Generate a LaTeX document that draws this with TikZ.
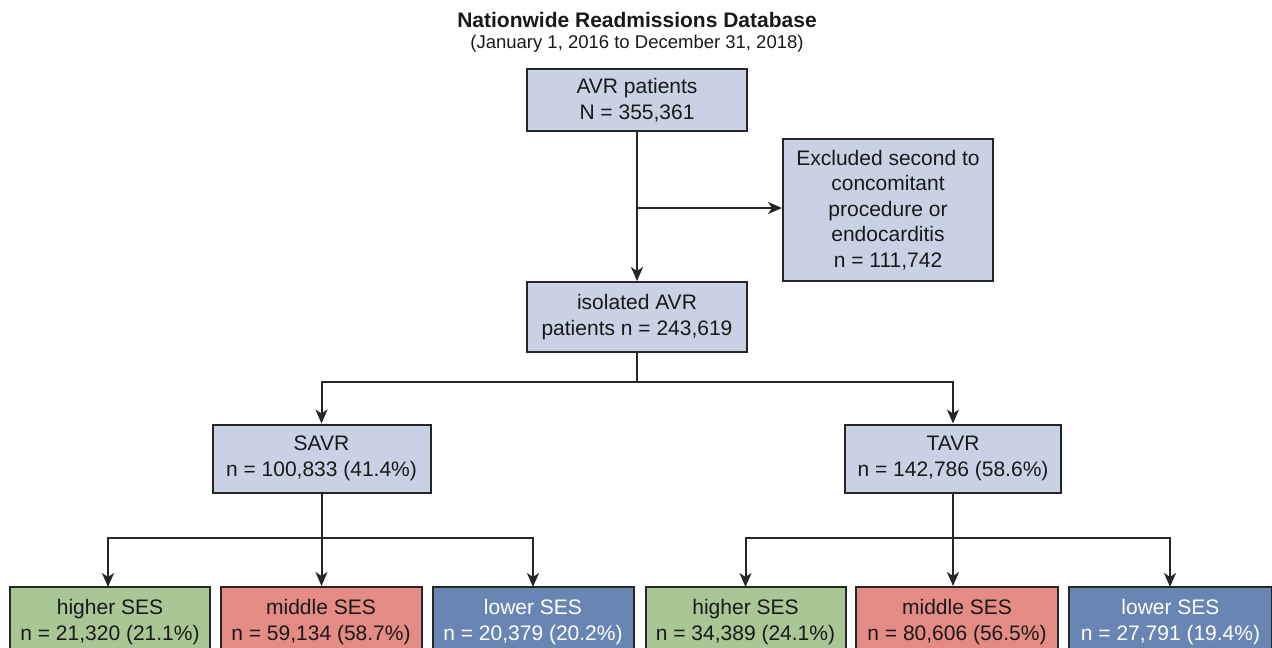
\documentclass[tikz,border=0pt]{standalone}
\usepackage{fontspec}
\setmainfont{Liberation Sans}
\usetikzlibrary{arrows.meta}
\definecolor{boxblue}{HTML}{C9D1E4}
\definecolor{sesgreen}{HTML}{A8C795}
\definecolor{sesred}{HTML}{E48C83}
\definecolor{sesblue}{HTML}{6886B3}
\begin{document}
\begin{tikzpicture}[x=1pt,y=-1pt,
  box/.style={draw=black!85,line width=2pt,fill=boxblue,align=center,inner sep=0pt,
    font=\fontsize{21}{25.5}\selectfont,text=black!90},
  conn/.style={line width=2pt,draw=black!85},
  arr/.style={conn,-{Stealth[length=14pt,width=12pt,inset=4pt]}}]
\clip (0,0) rectangle (1272,648);
\useasboundingbox (0,0) rectangle (1272,648);
\node[font=\fontsize{21}{24}\selectfont\bfseries,text=black!90] (title) at (637,20) {Nationwide Readmissions Database};
\node[font=\fontsize{18.5}{22}\selectfont,text=black!90] (sub) at (637,44) {(January 1, 2016 to December 31, 2018)};
\node[box,minimum width=220pt,minimum height=62pt] (avr) at (637,100) {AVR patients\\N = 355,361};
\node[box,minimum width=210pt,minimum height=142pt] (excl) at (888,210) {Excluded second to\\concomitant\\procedure or\\endocarditis\\n = 111,742};
\node[box,minimum width=220pt,minimum height=70pt] (iso) at (637,317) {isolated AVR\\patients n = 243,619};
\node[box,minimum width=218pt,minimum height=68pt] (savr) at (321.5,458.5) {SAVR\\n = 100,833 (41.4\%)};
\node[box,minimum width=216pt,minimum height=68pt] (tavr) at (953,458.5) {TAVR\\n = 142,786 (58.6\%)};
\node[box,fill=sesgreen,minimum width=200pt,minimum height=70pt] (sh) at (110,622) {higher SES\\n = 21,320 (21.1\%)};
\node[box,fill=sesred,minimum width=201pt,minimum height=70pt] (sm) at (321,622) {middle SES\\n = 59,134 (58.7\%)};
\node[box,fill=sesblue,text=white,minimum width=201pt,minimum height=70pt] (sl) at (533,622) {lower SES\\n = 20,379 (20.2\%)};
\node[box,fill=sesgreen,minimum width=200pt,minimum height=70pt] (th) at (745.5,622) {higher SES\\n = 34,389 (24.1\%)};
\node[box,fill=sesred,minimum width=202pt,minimum height=70pt] (tm) at (957,622) {middle SES\\n = 80,606 (56.5\%)};
\node[box,fill=sesblue,text=white,minimum width=203pt,minimum height=70pt] (tl) at (1170.5,622) {lower SES\\n = 27,791 (19.4\%)};
% connectors
\coordinate (j1) at (637,208);
\draw[arr] (avr.south) -- (iso.north);
\draw[arr] (j1) -- (excl.west |- j1);
\coordinate (j2) at (637,382);
\draw[conn] (iso.south) -- (j2);
\draw[arr] (j2) -| (savr.north);
\draw[arr] (j2) -| (tavr.north);
\coordinate (j3) at (321.5,538);
\draw[arr] (savr.south) -- (savr.south |- sm.north);
\draw[arr] (j3) -| (108,587);
\draw[arr] (j3) -| (533,587);
\coordinate (j4) at (953,538);
\draw[arr] (tavr.south) -- (tavr.south |- tm.north);
\draw[arr] (j4) -| (745.5,587);
\draw[arr] (j4) -| (1170,587);
\end{tikzpicture}
\end{document}
